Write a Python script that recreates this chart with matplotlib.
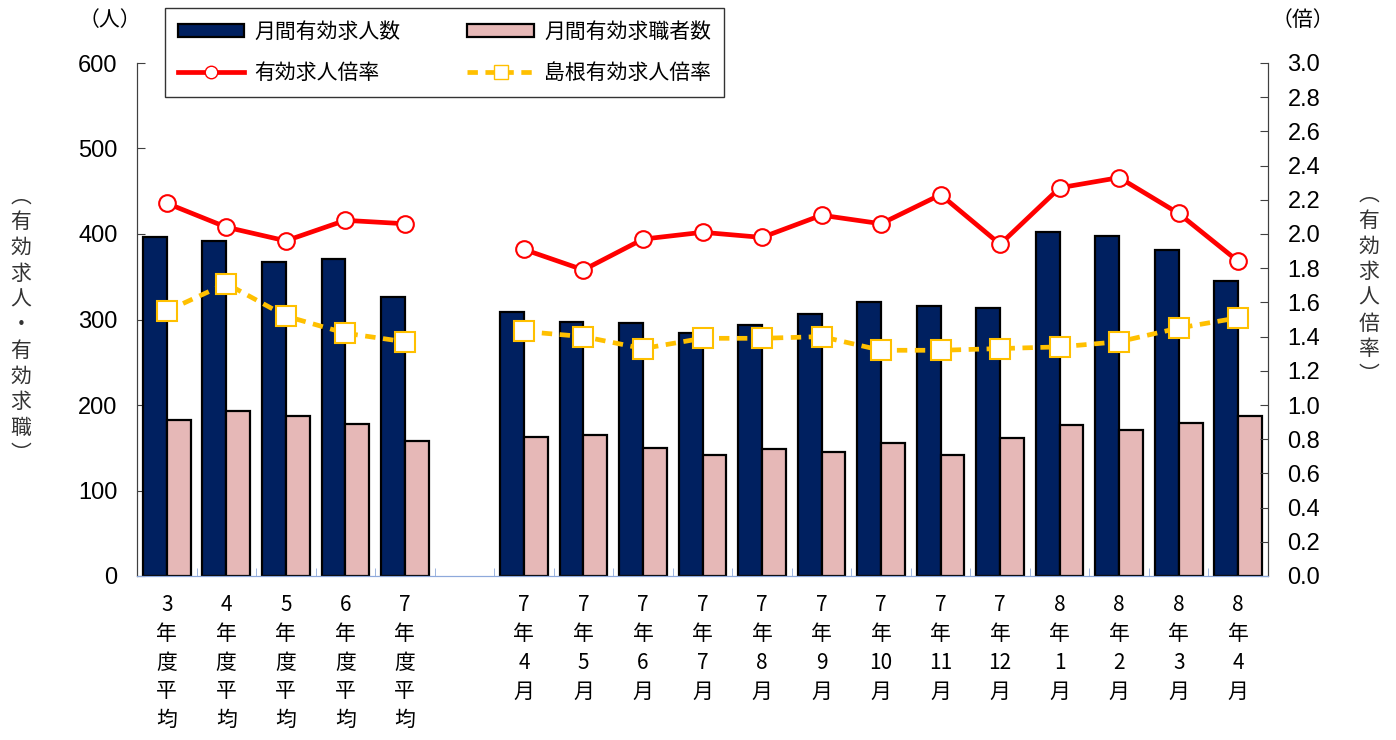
import numpy as np
import matplotlib
matplotlib.use('Agg')
import matplotlib.pyplot as plt
from matplotlib.patches import Patch
from matplotlib.lines import Line2D

plt.rcParams['font.family'] = ['Noto Sans CJK JP', 'DejaVu Sans']

# categories (None = empty slot between yearly averages and monthly values)
labels = ['3\n年\n度\n平\n均', '4\n年\n度\n平\n均', '5\n年\n度\n平\n均', '6\n年\n度\n平\n均', '7\n年\n度\n平\n均',
          None,
          '7\n年\n4\n月', '7\n年\n5\n月', '7\n年\n6\n月', '7\n年\n7\n月', '7\n年\n8\n月', '7\n年\n9\n月',
          '7\n年\n10\n月', '7\n年\n11\n月', '7\n年\n12\n月', '8\n年\n1\n月', '8\n年\n2\n月', '8\n年\n3\n月', '8\n年\n4\n月']

# 月間有効求人数
openings = [396, 392, 367, 371, 326, None,
            309, 297, 296, 284, 293, 306, 320, 316, 313, 402, 398, 381, 345]
# 月間有効求職者数
seekers = [182, 193, 187, 178, 158, None,
           162, 165, 150, 141, 148, 145, 155, 142, 161, 177, 171, 179, 187]
# 有効求人倍率
ratio = [2.18, 2.04, 1.96, 2.08, 2.06, None,
         1.91, 1.79, 1.97, 2.01, 1.98, 2.11, 2.06, 2.23, 1.94, 2.27, 2.33, 2.12, 1.84]
# 島根有効求人倍率
shimane = [1.55, 1.71, 1.52, 1.42, 1.37, None,
           1.43, 1.40, 1.33, 1.39, 1.39, 1.40, 1.32, 1.32, 1.33, 1.34, 1.37, 1.45, 1.51]


def to_arr(vals):
    return np.array([np.nan if v is None else v for v in vals], dtype=float)


x = np.arange(len(labels))
navy = '#002060'
pink = '#E6B8B7'
red = '#FF0000'
yellow = '#FFC000'

fig = plt.figure(figsize=(13.96, 7.40), dpi=100)
ax = fig.add_axes([137 / 1396, 1 - 576 / 740, (1268 - 137) / 1396, (576 - 63) / 740])
ax2 = ax.twinx()

w = 0.4
ax.bar(x - w / 2, to_arr(openings), w, color=navy, edgecolor='black', linewidth=1.6, zorder=2)
ax.bar(x + w / 2, to_arr(seekers), w, color=pink, edgecolor='black', linewidth=1.6, zorder=2)

ax2.plot(x, to_arr(ratio), color=red, linewidth=3.4, marker='o', markersize=12,
         markerfacecolor='white', markeredgecolor=red, markeredgewidth=1.5, zorder=3)
ax2.plot(x, to_arr(shimane), color=yellow, linewidth=3.4, linestyle=(0, (2.2, 1.6)),
         marker='s', markersize=15, markerfacecolor='white', markeredgecolor=yellow,
         markeredgewidth=1.5, zorder=3)

ax.set_xlim(-0.5, len(labels) - 0.5)
ax.set_ylim(0, 600)
ax2.set_ylim(0, 3.0)
ax.set_yticks(np.arange(0, 601, 100))
ax2.set_yticks(np.arange(0, 3.01, 0.2))
ax2.set_yticklabels([f'{v:.1f}' for v in np.arange(0, 3.01, 0.2)])

num_font = ['Liberation Sans Narrow', 'Liberation Sans', 'DejaVu Sans']
for t in ax.get_yticklabels():
    t.set_family(num_font)
    t.set_fontsize(17)
for t in ax2.get_yticklabels():
    t.set_family(num_font)
    t.set_fontsize(17)

ax.tick_params(axis='y', direction='in', length=6, color='#404040', pad=14)
ax2.tick_params(axis='y', direction='in', length=6, color='#404040', pad=14)

ax.set_xticks(x)
ax.set_xticklabels(['' if l is None else l for l in labels], fontsize=15, linespacing=1.4)
ax.tick_params(axis='x', length=0, pad=13)
ax.set_xticks(np.arange(0.5, len(labels) - 0.5, 1), minor=True)
ax.tick_params(axis='x', which='minor', direction='in', length=6, color='#8EA9DB')

for a in (ax, ax2):
    a.spines['top'].set_visible(False)
    a.spines['bottom'].set_color('#8EA9DB')
    a.spines['left'].set_color('#404040')
    a.spines['right'].set_color('#404040')
ax.set_zorder(1)
ax2.set_zorder(2)
ax.patch.set_visible(False)

fig.text(110 / 1396, 1 - 20 / 740, '（人）', fontsize=15, ha='center', va='center')
fig.text(1303 / 1396, 1 - 20 / 740, '（倍）', fontsize=15, ha='center', va='center')

left_label = '\n'.join(['︵', '有', '効', '求', '人', '・', '有', '効', '求', '職', '︶'])
fig.text(21 / 1396, 1 - 325 / 740, left_label, fontsize=15, ha='center', va='center',
         linespacing=1.22, color='#333333')
right_label = '\n'.join(['︵', '有', '効', '求', '人', '倍', '率', '︶'])
fig.text(1369 / 1396, 1 - 285 / 740, right_label, fontsize=15, ha='center', va='center',
         linespacing=1.22, color='#333333')

handles = [
    Patch(facecolor=navy, edgecolor='black', linewidth=1.6),
    Line2D([], [], color=red, linewidth=3.4, marker='o', markersize=9,
           markerfacecolor='white', markeredgecolor=red),
    Patch(facecolor=pink, edgecolor='black', linewidth=1.6),
    Line2D([], [], color=yellow, linewidth=3.4, linestyle=(0, (2.2, 1.6)), marker='s', markersize=10,
           markerfacecolor='white', markeredgecolor=yellow),
]
names = ['月間有効求人数', '有効求人倍率', '月間有効求職者数', '島根有効求人倍率']
leg = fig.legend(handles, names, ncol=2, loc='upper left', bbox_to_anchor=(165 / 1396, 1 - 8 / 740),
                 borderaxespad=0, fontsize=15, frameon=True, fancybox=False, edgecolor='black',
                 handlelength=3.2, handleheight=0.6, handletextpad=0.5, columnspacing=3.2,
                 labelspacing=0.95, borderpad=0.6)
leg.get_frame().set_linewidth(1.0)

fig.savefig('out.png', dpi=100)
